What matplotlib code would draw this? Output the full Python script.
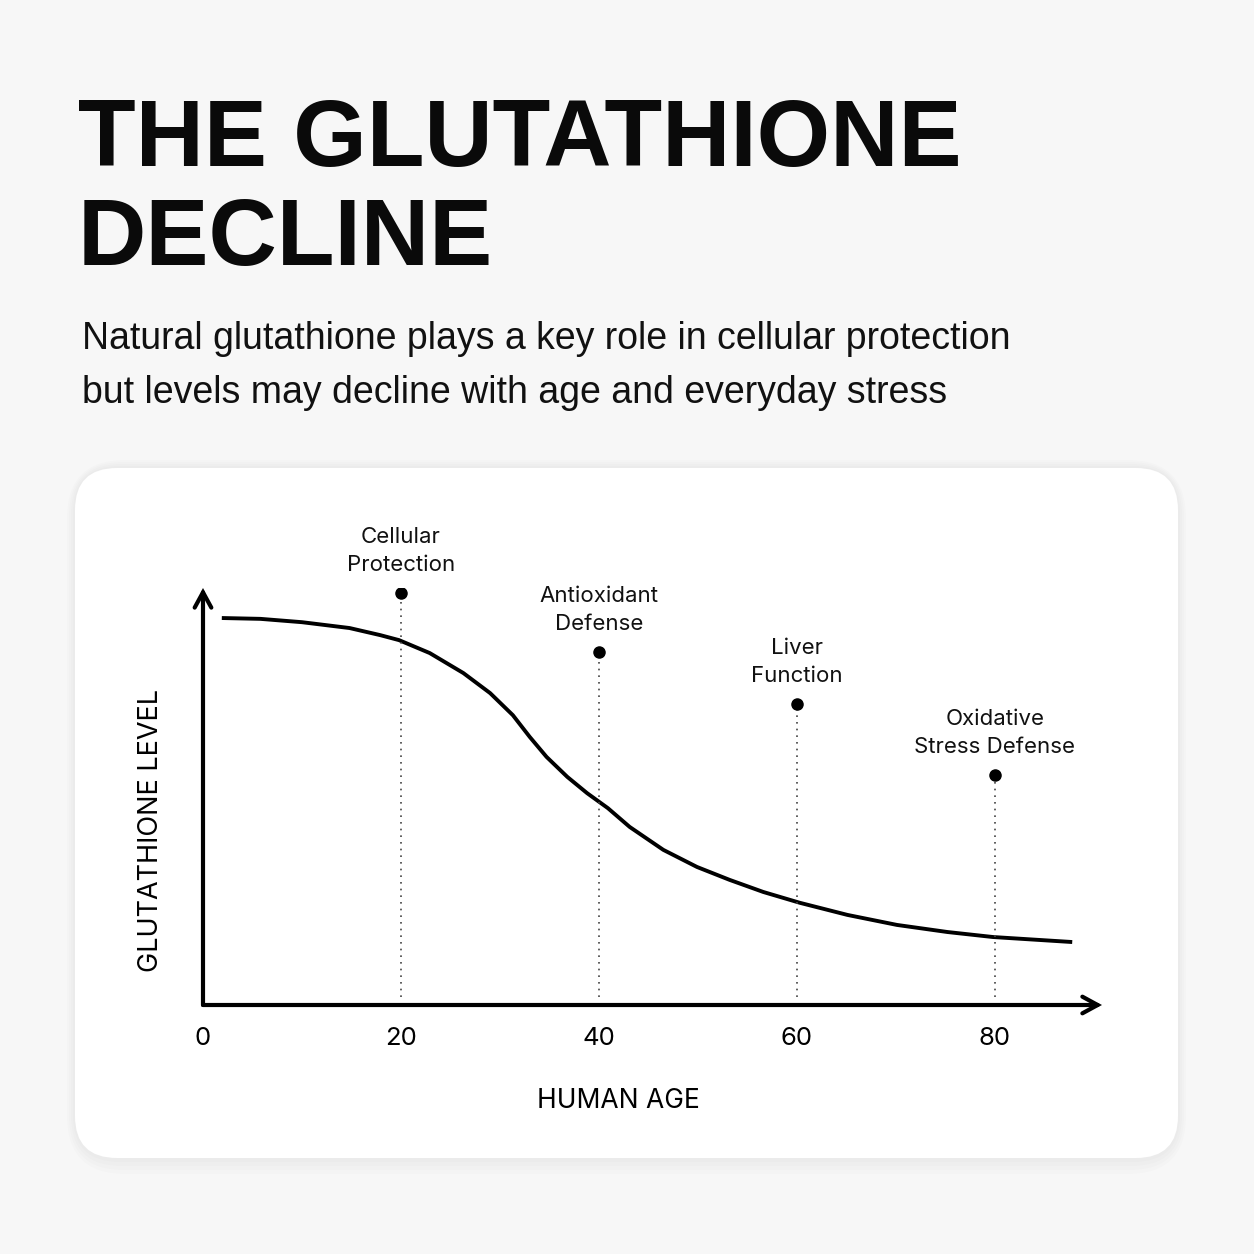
import numpy as np
import matplotlib.pyplot as plt
from matplotlib.patches import FancyBboxPatch

# curve (age, relative glutathione level)
age = [1.9, 5.8, 10.0, 14.8, 17.9, 19.8, 22.9, 26.3, 29.0, 31.3, 33.0, 34.7, 36.8, 38.8, 40.9,
       43.1, 46.5, 49.9, 53.2, 56.6, 60.3, 65.1, 70.1, 75.2, 79.8, 87.8]
level = [92.8, 92.6, 91.8, 90.4, 88.7, 87.5, 84.4, 79.6, 74.8, 69.5, 64.3, 59.5, 54.7, 50.8, 47.2,
         42.7, 37.2, 33.1, 30.0, 27.1, 24.5, 21.6, 19.2, 17.5, 16.3, 15.1]

marker_age = [20, 40, 60, 80]
marker_level = [98.8, 84.7, 72.2, 55.2]
marker_text = ["Cellular\nProtection", "Antioxidant\nDefense", "Liver\nFunction", "Oxidative\nStress Defense"]

tick_vals = [0, 20, 40, 60, 80]

W = H = 1254
fig = plt.figure(figsize=(12.54, 12.54), dpi=100)
fig.patch.set_facecolor("#f7f7f7")

def fx(px):
    return px / W

def fy(py):
    return 1 - py / H

# card with a soft shadow
for i in range(4):
    g = 4 + i * 4
    fig.patches.append(FancyBboxPatch((fx(75 - g / 2), fy(1158 + g)), fx(1103 + g), (690 + g * 1.5) / H,
                                      boxstyle="round,pad=0,rounding_size=%f" % fx(42 + g),
                                      transform=fig.transFigure, facecolor="black", edgecolor="none",
                                      alpha=0.012, zorder=0))
fig.patches.append(FancyBboxPatch((fx(75), fy(1158)), fx(1103), 690 / H,
                                  boxstyle="round,pad=0,rounding_size=%f" % fx(42),
                                  transform=fig.transFigure, facecolor="white", edgecolor="none", zorder=1))

# title and subtitle
fig.text(fx(78), fy(166), "THE GLUTATHIONE", fontsize=68, fontweight="bold",
         family="Liberation Sans", va="baseline", ha="left", color="#0a0a0a")
fig.text(fx(78), fy(265), "DECLINE", fontsize=68, fontweight="bold",
         family="Liberation Sans", va="baseline", ha="left", color="#0a0a0a")
fig.text(fx(82), fy(349), "Natural glutathione plays a key role in cellular protection",
         fontsize=27, family="Liberation Sans", va="baseline", ha="left", color="#111111")
fig.text(fx(82), fy(403), "but levels may decline with age and everyday stress",
         fontsize=27, family="Liberation Sans", va="baseline", ha="left", color="#111111")

# plot area
x0, x1, ytop, ybot = 203, 1102, 588, 1005
ax = fig.add_axes([fx(x0), fy(ybot), fx(x1 - x0), (ybot - ytop) / H])
ax.set_facecolor("none")
ax.set_xlim(0, (x1 - x0) / 9.9)
ax.set_ylim(0, 100)
for s in ax.spines.values():
    s.set_visible(False)
ax.set_zorder(3)

arrow = dict(arrowstyle="->,head_length=1.1,head_width=0.6", lw=3, color="black",
             shrinkA=0, shrinkB=0, joinstyle="miter")
ax.annotate("", xy=(1.0, 0), xytext=(0, 0), xycoords="axes fraction",
            arrowprops=arrow, annotation_clip=False)
ax.annotate("", xy=(0, 1.0), xytext=(0, 0), xycoords="axes fraction",
            arrowprops=arrow, annotation_clip=False)

ax.plot(age, level, color="black", lw=2.8, solid_capstyle="butt", solid_joinstyle="round")

for a_, l_, t_ in zip(marker_age, marker_level, marker_text):
    ax.plot([a_, a_], [2, l_], color="#444444", lw=1.2, ls=(0, (1, 3)))
    ax.plot(a_, l_, "o", color="black", ms=8)
    ax.text(a_, l_ + 4.3, t_, ha="center", va="bottom", fontsize=16, family="Inter",
            linespacing=1.5, color="#111111")

ax.set_xticks(tick_vals)
ax.set_xticklabels([str(v) for v in tick_vals], fontsize=18.5, family="Inter")
ax.tick_params(axis="x", length=0, pad=16)
ax.set_yticks([])

fig.text(fx(618), fy(1101), "HUMAN AGE", fontsize=19, family="Inter", ha="center", va="center")
fig.text(fx(151), fy(830), "GLUTATHIONE LEVEL", fontsize=19.5, family="Inter",
         ha="center", va="center", rotation=90)

fig.savefig("out.png", dpi=100, facecolor=fig.get_facecolor())
